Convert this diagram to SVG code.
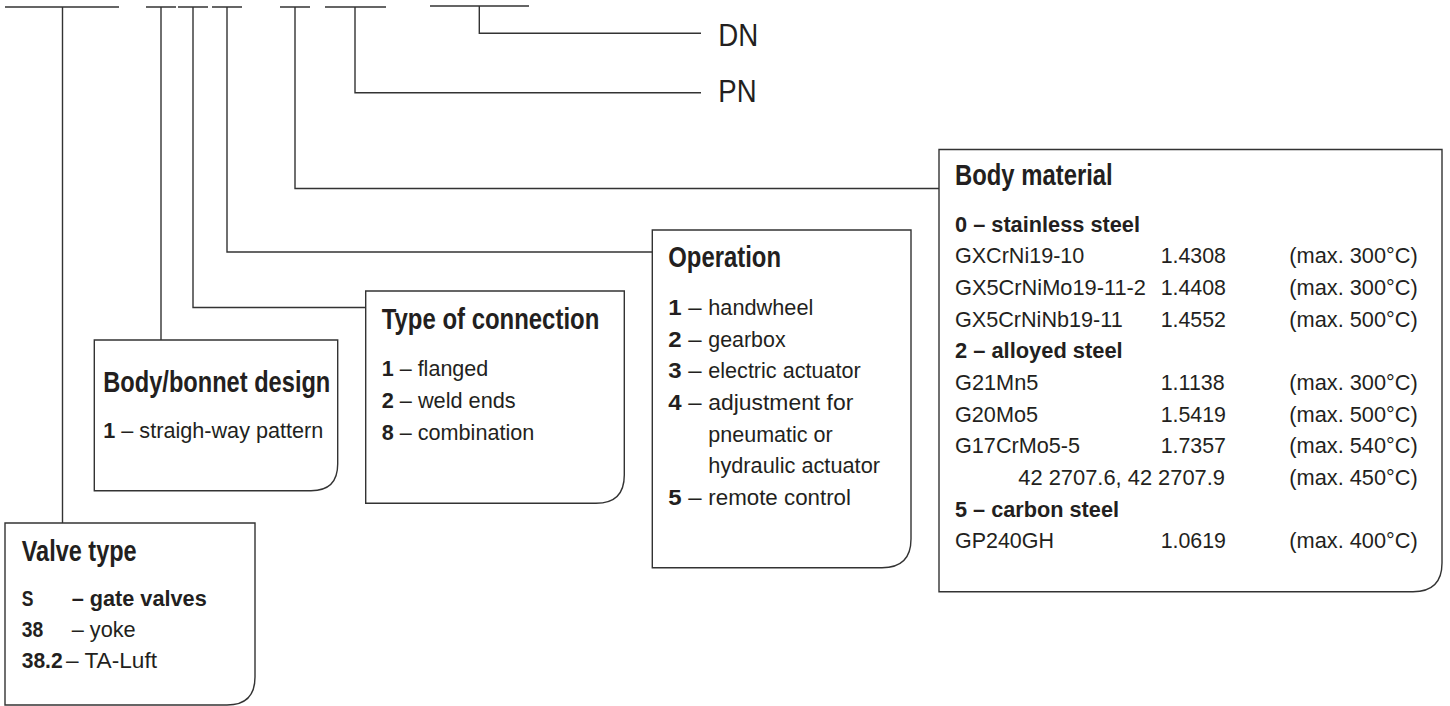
<svg xmlns="http://www.w3.org/2000/svg" width="1450" height="706" viewBox="0 0 1450 706">
<style>
  .ln { fill: none; stroke: #333; stroke-width: 1.4; }
  .box { fill: #fff; stroke: #333; stroke-width: 1.4; }
  text { font-family: "Liberation Sans", Arial, sans-serif; fill: #231f20; }
  .t { font-size: 29px; font-weight: bold; }
  .i { font-size: 22px; }
  .b { font-weight: bold; }
  .lab { font-size: 31px; }
</style>
<rect width="1450" height="706" fill="#fff"/>

<g id="connectors">
  <path class="ln" d="M5 7H119 M146 7H176 M178 7H208 M212 7H242 M280 7H310 M325 7H386 M430 6H529"/>
  <path class="ln" d="M62.5 7V523"/>
  <path class="ln" d="M161 7V340"/>
  <path class="ln" d="M193 7V307.5H365.7"/>
  <path class="ln" d="M227 7V252H652.3"/>
  <path class="ln" d="M295 7V188.5H939"/>
  <path class="ln" d="M355 7V92.7H701"/>
  <path class="ln" d="M479.3 6V33.3H701"/>
</g>

<g id="dn">
  <text class="lab" x="718.3" y="45.7" textLength="40" lengthAdjust="spacingAndGlyphs">DN</text>
</g>
<g id="pn">
  <text class="lab" x="718.3" y="101.7" textLength="38.3" lengthAdjust="spacingAndGlyphs">PN</text>
</g>

<g id="valve-type">
  <path class="box" d="M5 523H255V677Q255 705 227 705H5Z"/>
  <text class="t" x="21.7" y="560.7" textLength="115" lengthAdjust="spacingAndGlyphs">Valve type</text>
  <text class="i b" x="21.7" y="605.7" textLength="11.7" lengthAdjust="spacingAndGlyphs">S</text>
  <text class="i b" x="71.7" y="605.7" textLength="135" lengthAdjust="spacingAndGlyphs">– gate valves</text>
  <text class="i b" x="21.7" y="636.5" textLength="21.5" lengthAdjust="spacingAndGlyphs">38</text>
  <text class="i" x="71.7" y="636.5" textLength="64" lengthAdjust="spacingAndGlyphs">– yoke</text>
  <text class="i b" x="21.7" y="667.5" textLength="41" lengthAdjust="spacingAndGlyphs">38.2</text>
  <text class="i" x="66" y="667.5" textLength="91" lengthAdjust="spacingAndGlyphs">– TA-Luft</text>
</g>

<g id="body-bonnet">
  <path class="box" d="M94.3 340H337.7V464Q337.7 490.7 311 490.7H94.3Z"/>
  <text class="t" x="103.3" y="391.5" textLength="227" lengthAdjust="spacingAndGlyphs">Body/bonnet design</text>
  <text class="i" x="103.3" y="438.3" textLength="220" lengthAdjust="spacingAndGlyphs"><tspan class="b">1</tspan> – straigh-way pattern</text>
</g>

<g id="type-of-connection">
  <path class="box" d="M365.7 291H624.3V475Q624.3 503.3 596 503.3H365.7Z"/>
  <text class="t" x="381.7" y="329.3" textLength="217.6" lengthAdjust="spacingAndGlyphs">Type of connection</text>
  <text class="i" x="381.7" y="376" textLength="106.6" lengthAdjust="spacingAndGlyphs"><tspan class="b">1</tspan> – flanged</text>
  <text class="i" x="381.7" y="408" textLength="134" lengthAdjust="spacingAndGlyphs"><tspan class="b">2</tspan> – weld ends</text>
  <text class="i" x="381.7" y="440" textLength="152.6" lengthAdjust="spacingAndGlyphs"><tspan class="b">8</tspan> – combination</text>
</g>

<g id="operation">
  <path class="box" d="M652.3 230H911V539Q911 567.7 882 567.7H652.3Z"/>
  <text class="t" x="668.3" y="266.7" textLength="112.7" lengthAdjust="spacingAndGlyphs">Operation</text>
  <text class="i" x="668.3" y="315" textLength="33.4" lengthAdjust="spacingAndGlyphs"><tspan class="b">1</tspan> –</text>
  <text class="i" x="708.3" y="315" textLength="105" lengthAdjust="spacingAndGlyphs">handwheel</text>
  <text class="i" x="668.3" y="346.7" textLength="33.4" lengthAdjust="spacingAndGlyphs"><tspan class="b">2</tspan> –</text>
  <text class="i" x="708.3" y="346.7" textLength="77.3" lengthAdjust="spacingAndGlyphs">gearbox</text>
  <text class="i" x="668.3" y="378.3" textLength="33.4" lengthAdjust="spacingAndGlyphs"><tspan class="b">3</tspan> –</text>
  <text class="i" x="708.3" y="378.3" textLength="152.3" lengthAdjust="spacingAndGlyphs">electric actuator</text>
  <text class="i" x="668.3" y="410" textLength="33.4" lengthAdjust="spacingAndGlyphs"><tspan class="b">4</tspan> –</text>
  <text class="i" x="708.3" y="410" textLength="145" lengthAdjust="spacingAndGlyphs">adjustment for</text>
  <text class="i" x="708.3" y="441.7" textLength="124.3" lengthAdjust="spacingAndGlyphs">pneumatic or</text>
  <text class="i" x="708.3" y="473.3" textLength="171.7" lengthAdjust="spacingAndGlyphs">hydraulic actuator</text>
  <text class="i" x="668.3" y="505" textLength="33.4" lengthAdjust="spacingAndGlyphs"><tspan class="b">5</tspan> –</text>
  <text class="i" x="708.3" y="505" textLength="142.7" lengthAdjust="spacingAndGlyphs">remote control</text>
</g>

<g id="body-material">
  <path class="box" d="M939 149.5H1442V563Q1442 591.7 1413 591.7H939Z"/>
  <text class="t" x="955" y="185" textLength="157.7" lengthAdjust="spacingAndGlyphs">Body material</text>
  <text class="i b" x="955" y="231.7" textLength="185" lengthAdjust="spacingAndGlyphs">0 – stainless steel</text>
  <text class="i" x="955" y="263.3" textLength="129.3" lengthAdjust="spacingAndGlyphs">GXCrNi19-10</text>
  <text class="i" x="1160.7" y="263.3" textLength="65.3" lengthAdjust="spacingAndGlyphs">1.4308</text>
  <text class="i" x="1289.3" y="263.3" textLength="128.4" lengthAdjust="spacingAndGlyphs">(max. 300°C)</text>
  <text class="i" x="955" y="295" textLength="191" lengthAdjust="spacingAndGlyphs">GX5CrNiMo19-11-2</text>
  <text class="i" x="1160.7" y="295" textLength="65.3" lengthAdjust="spacingAndGlyphs">1.4408</text>
  <text class="i" x="1289.3" y="295" textLength="128.4" lengthAdjust="spacingAndGlyphs">(max. 300°C)</text>
  <text class="i" x="955" y="326.6" textLength="167.7" lengthAdjust="spacingAndGlyphs">GX5CrNiNb19-11</text>
  <text class="i" x="1160.7" y="326.6" textLength="65.3" lengthAdjust="spacingAndGlyphs">1.4552</text>
  <text class="i" x="1289.3" y="326.6" textLength="128.4" lengthAdjust="spacingAndGlyphs">(max. 500°C)</text>
  <text class="i b" x="955" y="358.3" textLength="167.7" lengthAdjust="spacingAndGlyphs">2 – alloyed steel</text>
  <text class="i" x="955" y="390" textLength="83.3" lengthAdjust="spacingAndGlyphs">G21Mn5</text>
  <text class="i" x="1160.7" y="390" textLength="64" lengthAdjust="spacingAndGlyphs">1.1138</text>
  <text class="i" x="1289.3" y="390" textLength="128.4" lengthAdjust="spacingAndGlyphs">(max. 300°C)</text>
  <text class="i" x="955" y="421.6" textLength="83" lengthAdjust="spacingAndGlyphs">G20Mo5</text>
  <text class="i" x="1160.7" y="421.6" textLength="65.3" lengthAdjust="spacingAndGlyphs">1.5419</text>
  <text class="i" x="1289.3" y="421.6" textLength="128.4" lengthAdjust="spacingAndGlyphs">(max. 500°C)</text>
  <text class="i" x="955" y="453.3" textLength="125" lengthAdjust="spacingAndGlyphs">G17CrMo5-5</text>
  <text class="i" x="1160.7" y="453.3" textLength="65.3" lengthAdjust="spacingAndGlyphs">1.7357</text>
  <text class="i" x="1289.3" y="453.3" textLength="128.4" lengthAdjust="spacingAndGlyphs">(max. 540°C)</text>
  <text class="i" x="1018.3" y="485" textLength="206.7" lengthAdjust="spacingAndGlyphs">42 2707.6, 42 2707.9</text>
  <text class="i" x="1289.3" y="485" textLength="128.4" lengthAdjust="spacingAndGlyphs">(max. 450°C)</text>
  <text class="i b" x="955" y="516.6" textLength="164" lengthAdjust="spacingAndGlyphs">5 – carbon steel</text>
  <text class="i" x="955" y="548.3" textLength="99" lengthAdjust="spacingAndGlyphs">GP240GH</text>
  <text class="i" x="1160.7" y="548.3" textLength="65.3" lengthAdjust="spacingAndGlyphs">1.0619</text>
  <text class="i" x="1289.3" y="548.3" textLength="128.4" lengthAdjust="spacingAndGlyphs">(max. 400°C)</text>
</g>
</svg>
